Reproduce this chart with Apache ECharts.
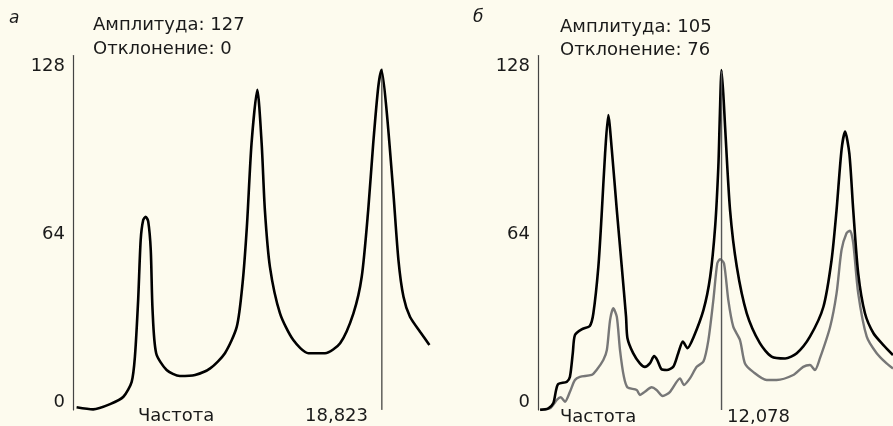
<!DOCTYPE html>
<html>
<head>
<meta charset="utf-8">
<script src="https://cdn.jsdelivr.net/npm/echarts@6/dist/echarts.min.js"></script>
<style>
  html, body { margin: 0; padding: 0; background: #fdfbee; }
  #main { width: 893px; height: 426px; }
</style>
</head>
<body>
<div id="main"></div>
<script>
// панель а: одна кривая
var xA = [1.0, 5.6, 10.3, 14.0, 16.3, 17.2, 18.1, 18.8, 19.5, 20.2, 20.9, 21.6, 22.1, 23.1, 26.0, 29.7, 33.9, 38.1, 42.2, 45.5, 47.1, 48.3, 49.6, 51.2, 52.4, 53.3, 54.7, 57.5, 61.2, 65.4, 70.0, 74.2, 77.9, 80.2, 82.0, 83.4, 84.8, 85.7, 87.1, 89.0, 90.4, 91.8, 93.6, 96.4, 99.0];
var yA = [-2.0, -2.8, -0.8, 2.0, 7.7, 17.3, 38.9, 61.7, 69.3, 70.6, 68.7, 57.9, 35.0, 18.6, 12.2, 9.9, 10.3, 12.8, 18.6, 28.7, 45.2, 66.8, 98.6, 118.9, 98.6, 73.1, 51.5, 33.8, 23.6, 18.6, 18.6, 22.4, 33.8, 47.7, 73.1, 98.6, 120.1, 126.5, 111.2, 79.5, 54.1, 40.1, 32.5, 26.8, 21.7];

// панель б: чёрная и серая кривые
var xB1 = [0.6, 2.9, 4.3, 5.1, 5.7, 8.1, 9.0, 9.8, 10.4, 12.3, 14.6, 15.6, 17.0, 17.9, 18.9, 19.8, 20.8, 22.2, 23.6, 24.8, 25.2, 26.8, 28.7, 30.1, 31.5, 32.7, 33.6, 34.8, 36.3, 38.1, 39.5, 40.8, 42.1, 43.7, 46.6, 48.5, 49.9, 50.8, 51.2, 51.7, 52.3, 52.7, 54.1, 56.0, 58.8, 62.5, 65.8, 69.6, 72.9, 76.6, 80.4, 82.7, 84.1, 85.5, 86.5, 87.7, 88.8, 90.2, 92.1, 94.5, 97.3, 100];
var yB1 = [-3.0, -2.4, -0.5, 4.6, 6.9, 7.7, 9.6, 18.6, 25.5, 27.7, 29.0, 33.8, 51.5, 70.6, 94.7, 109.3, 96.0, 73.1, 51.5, 32.5, 24.3, 18.6, 14.7, 13.4, 14.7, 17.5, 16.0, 12.5, 12.2, 13.4, 18.6, 23.0, 20.5, 24.3, 35.0, 47.7, 66.8, 89.6, 108, 126.5, 115, 104.9, 73.1, 51.5, 33.8, 22.4, 17.3, 16.6, 18.6, 24.9, 36.3, 54.1, 73.1, 96.0, 103.0, 94.7, 73.1, 49.0, 33.8, 26.2, 21.7, 17.9];
var xB2 = [0.6, 3.4, 5.3, 6.4, 7.6, 9.0, 10.4, 11.8, 15.1, 16.5, 18.4, 19.4, 20.3, 21.2, 22.2, 23.1, 24.2, 25.2, 27.8, 28.7, 30.1, 32.0, 33.4, 35.1, 37.2, 40.0, 41.1, 42.8, 44.7, 46.6, 48.0, 49.4, 50.5, 51.3, 52.4, 53.6, 55.0, 56.9, 58.3, 60.6, 64.4, 67.2, 71.9, 74.7, 76.6, 78.0, 79.4, 82.3, 84.1, 85.5, 86.9, 87.9, 88.8, 90.2, 92.6, 95.4, 98.2, 100];
var yB2 = [-3.0, -2.4, 0.8, 1.8, 0.1, 3.9, 8.4, 9.6, 10.3, 12.2, 16.0, 19.8, 31.2, 35.7, 32.5, 19.8, 9.6, 5.6, 4.6, 2.7, 3.9, 5.6, 4.6, 2.3, 3.9, 9.0, 6.5, 9.0, 13.4, 15.4, 23.6, 38.9, 52.8, 54.4, 52.8, 38.9, 28.7, 23.6, 14.7, 11.5, 8.4, 8.4, 10.3, 13.4, 14.1, 12.2, 16.6, 28.7, 41.4, 57.9, 64.3, 65.3, 60.5, 41.4, 24.9, 18.6, 14.7, 12.8];

var yTicks = [0, 64, 128];
var markerA = 85.8, markerATop = 127;
var markerB = 51.7, markerBTop = 126;
var panelLetters = ['а', 'б'];
var infoA = ['Амплитуда: 127', 'Отклонение: 0'];
var infoB = ['Амплитуда: 105', 'Отклонение: 76'];
var freqName = 'Частота';
var freqA = '18,823', freqB = '12,078';

function pairs(xs, ys) {
    return xs.map(function (x, i) { return [x, ys[i]]; });
}

var FONT = '"DejaVu Sans", sans-serif';
var textCol = '#1a1a1a';

function txt(x, y, s, extra) {
    var st = { text: s, fill: textCol, font: '18px ' + FONT, verticalAlign: 'middle', align: 'left' };
    for (var k in extra) st[k] = extra[k];
    return { type: 'text', x: x, y: y, silent: true, style: st };
}

function yAxisCfg(idx) {
    return {
        gridIndex: idx, type: 'value', min: -3, max: 132,
        axisLine: { show: true, lineStyle: { color: '#444', width: 1.2 } },
        axisTick: { show: false },
        splitLine: { show: false },
        axisLabel: { customValues: yTicks, color: textCol, fontSize: 18, fontFamily: FONT, margin: 8 }
    };
}

var myChart = echarts.init(document.getElementById('main'));
var option = {
    backgroundColor: '#fdfbee',
    animation: false,
    grid: [
        { left: 73, top: 55.5, width: 360, height: 354.4 },
        { left: 538, top: 55.5, width: 355, height: 354.4 }
    ],
    xAxis: [
        { gridIndex: 0, type: 'value', min: 0, max: 100, show: false },
        { gridIndex: 1, type: 'value', min: 0, max: 100, show: false }
    ],
    yAxis: [yAxisCfg(0), yAxisCfg(1)],
    series: [
        {
            type: 'line', xAxisIndex: 0, yAxisIndex: 0,
            data: [[markerA, markerATop], [markerA, -3]],
            symbol: 'none', silent: true,
            lineStyle: { color: '#111', width: 1 }
        },
        {
            type: 'line', xAxisIndex: 0, yAxisIndex: 0,
            data: pairs(xA, yA), smooth: 0.25, symbol: 'none',
            lineStyle: { color: '#000', width: 2.6 }
        },
        {
            type: 'line', xAxisIndex: 1, yAxisIndex: 1,
            data: pairs(xB2, yB2), smooth: 0.25, symbol: 'none',
            lineStyle: { color: '#777', width: 2.4 }
        },
        {
            type: 'line', xAxisIndex: 1, yAxisIndex: 1,
            data: pairs(xB1, yB1), smooth: 0.25, symbol: 'none',
            lineStyle: { color: '#000', width: 2.6 }
        },
        {
            type: 'line', xAxisIndex: 1, yAxisIndex: 1,
            data: [[markerB, markerBTop], [markerB, -3]],
            symbol: 'none', silent: true, z: 5,
            lineStyle: { color: '#555', width: 1.4 }
        }
    ],
    graphic: [
        txt(9, 19, panelLetters[0], { font: 'italic 17px ' + FONT }),
        txt(93, 25, infoA[0]),
        txt(93, 49, infoA[1]),
        txt(138, 416, freqName),
        txt(368, 416, freqA, { align: 'right' }),
        txt(473, 18, panelLetters[1], { font: 'italic 17px ' + FONT }),
        txt(560, 27, infoB[0]),
        txt(560, 50, infoB[1]),
        txt(560, 417, freqName),
        txt(727, 417, freqB)
    ]
};
myChart.setOption(option);
</script>
</body>
</html>
